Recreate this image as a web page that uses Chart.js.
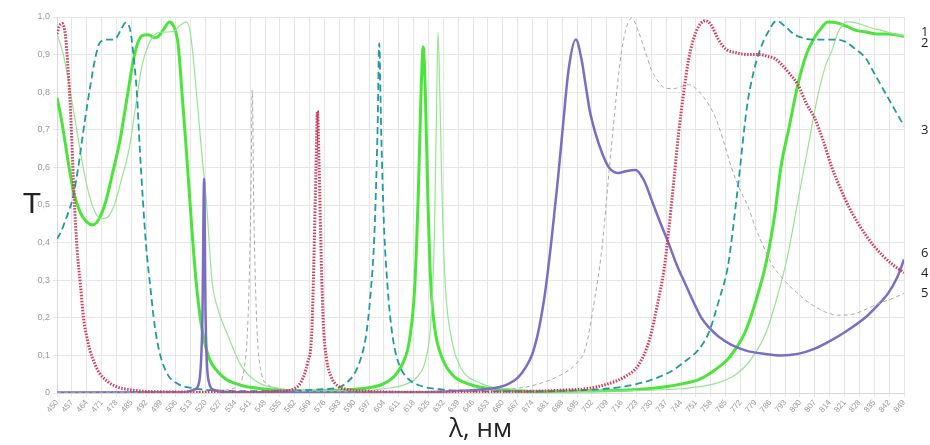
<!DOCTYPE html>
<html>
<head>
<meta charset="utf-8">
<script src="https://cdn.jsdelivr.net/npm/chart.js@4"></script>
<style>
  html, body { margin: 0; padding: 0; background: #fff; }
  #wrap { width: 930px; height: 445px; }
</style>
</head>
<body>
<div id="wrap"><canvas id="myChart" width="930" height="445"></canvas></div>
<script>
// wavelength (nm) and transmission T for each curve
var wl1 = [450,452,454,456,458,461,464,467,470,473,476,479.6,482,484,486,488,490,493,496,498,500,503,505,507,509,511,514,516,518.6,522,526,530,537,545,555,570,585,597,604,609,613,616,618.5,620.3,621.5,622.5,623.5,624.7,626,628,631,636,645,660,680,700,720,735,745,752,757,762,766,770,774,777,780,784,788,791,795,799,803,807,810,813,817,822,826,831,836,841,846,849];
var t1  = [0.785,0.73,0.66,0.59,0.53,0.48,0.455,0.447,0.465,0.51,0.58,0.67,0.75,0.82,0.886,0.93,0.95,0.953,0.945,0.95,0.965,0.987,0.975,0.93,0.79,0.64,0.40,0.27,0.16,0.088,0.055,0.035,0.02,0.012,0.007,0.005,0.008,0.014,0.025,0.045,0.08,0.14,0.28,0.55,0.8,0.92,0.8,0.52,0.3,0.17,0.1,0.05,0.022,0.008,0.004,0.005,0.008,0.015,0.025,0.035,0.05,0.07,0.09,0.12,0.16,0.205,0.26,0.345,0.47,0.6,0.71,0.82,0.9,0.947,0.97,0.987,0.985,0.975,0.965,0.96,0.955,0.955,0.952,0.948];

var wl2 = [450,453,456,459,462,465,468,471,474,477,480,484,487,490,493,497,501,505,508,511,513,516,518,520.5,523,526,530,537,545,555,570,590,605,615,620,623.5,626,627.7,628.7,629.5,630.4,631.5,633,636,640,650,665,690,720,745,760,770,777,784,789,794,799,804,808,812,815,818,822,826,830,834,838,843,849];
var t2  = [0.955,0.9,0.81,0.71,0.61,0.53,0.48,0.463,0.468,0.5,0.56,0.65,0.76,0.87,0.925,0.957,0.96,0.962,0.978,0.987,0.95,0.78,0.65,0.5,0.3,0.22,0.16,0.07,0.027,0.012,0.006,0.006,0.012,0.025,0.045,0.085,0.18,0.4,0.72,0.96,0.78,0.5,0.28,0.14,0.07,0.025,0.01,0.005,0.006,0.012,0.025,0.05,0.09,0.16,0.25,0.36,0.51,0.66,0.78,0.87,0.91,0.96,0.987,0.985,0.978,0.97,0.965,0.957,0.95];

var wl3 = [450,452,454,456,457.5,460,463,465.5,468,470,473.5,476,478,480,482.4,484.5,486,487.6,489,490.5,492,494,496,498.4,502,506,514,525,540,560,575,583,587,590,593,595.5,597.5,599.5,601,601.8,602.7,604,605.5,607,609,612,616,622,630,640,660,690,710,720,730,740,746,752,757,762,766,768.5,771,775,778,781,785,789,793,797,801,806,811,816,821,826,831,835,839,844,849];
var t3  = [0.41,0.43,0.46,0.49,0.52,0.6,0.72,0.81,0.89,0.93,0.94,0.94,0.945,0.965,0.985,0.965,0.9,0.8,0.65,0.51,0.39,0.28,0.18,0.106,0.05,0.027,0.013,0.007,0.005,0.006,0.01,0.015,0.03,0.05,0.09,0.15,0.25,0.42,0.7,0.93,0.7,0.45,0.3,0.2,0.12,0.065,0.035,0.018,0.01,0.006,0.004,0.006,0.012,0.02,0.035,0.06,0.085,0.114,0.16,0.25,0.335,0.44,0.56,0.76,0.85,0.91,0.96,0.99,0.975,0.955,0.945,0.94,0.94,0.94,0.935,0.915,0.89,0.85,0.81,0.76,0.71];

var wl4 = [450,451,452.5,454,455,456,457,458,459.5,461,462.5,464,465.5,468,470,474,478,485,500,540,555,562,565,568,570,571,572,572.7,573.5,574.5,575.5,577,579,582,587,595,620,660,690,700,710,718,724,729,733,736,738,740.5,742.8,745,747.5,751,755.5,758,761.6,765,770,775.6,781,785,788,792,795,799,803,807,811,815,819,823,827,831,835,839,844,849];
var t4  = [0.955,0.975,0.983,0.95,0.88,0.79,0.67,0.53,0.38,0.29,0.2,0.15,0.114,0.075,0.053,0.03,0.017,0.008,0.003,0.002,0.005,0.012,0.03,0.08,0.16,0.35,0.6,0.75,0.6,0.35,0.18,0.09,0.045,0.02,0.009,0.005,0.002,0.003,0.008,0.012,0.025,0.045,0.075,0.14,0.24,0.33,0.425,0.56,0.69,0.79,0.886,0.96,0.99,0.98,0.94,0.915,0.905,0.9,0.9,0.895,0.89,0.87,0.85,0.82,0.77,0.73,0.67,0.6,0.545,0.495,0.455,0.42,0.39,0.365,0.34,0.32];

var wl5 = [450,520,530,535,538,540,541.3,542,542.7,544,546,550,556,570,620,650,670,680,688,694,699,703,706.6,711,716,720.7,724,727,730,733,737,741,744,747.5,751,755.5,760,764,767.7,771,775.6,779,783.6,787,791,795,799,803,807,812,818,823,827,832,838,843,849];
var t5  = [0.002,0.003,0.008,0.02,0.06,0.2,0.5,0.806,0.5,0.2,0.06,0.02,0.008,0.004,0.003,0.006,0.015,0.03,0.05,0.075,0.12,0.24,0.38,0.646,0.91,0.997,0.96,0.91,0.86,0.83,0.81,0.81,0.815,0.82,0.81,0.78,0.735,0.67,0.6,0.55,0.495,0.44,0.38,0.34,0.31,0.285,0.265,0.245,0.23,0.215,0.207,0.208,0.213,0.225,0.24,0.25,0.265];

var wl6 = [450,510,515,517,518.5,519.3,520,521.5,524,530,620,640,655,662,667,671,674,677,680,683,686,688.5,691,694.4,697,699,701,703.7,707,710,714.6,718,722.6,725,727,730,733,738,742,746,750,753.6,757,761.6,767.7,775,783.6,791,799,807,814.7,822,830.6,836,841.5,846,849];
var t6  = [0.001,0.002,0.01,0.03,0.2,0.57,0.2,0.03,0.008,0.002,0.002,0.006,0.012,0.022,0.04,0.07,0.105,0.17,0.27,0.41,0.57,0.72,0.86,0.94,0.89,0.82,0.75,0.69,0.635,0.6,0.585,0.59,0.593,0.58,0.56,0.515,0.47,0.4,0.34,0.29,0.24,0.2,0.175,0.15,0.128,0.112,0.104,0.1,0.104,0.118,0.14,0.165,0.2,0.23,0.265,0.31,0.355];

// curve numbers written at the right edge
var curveLabels = ['1', '2', '3', '6', '4', '5'];
var curveLabelT = [0.96, 0.93, 0.70, 0.372, 0.319, 0.266];

function pts(xs, ys) {
  return xs.map(function(x, i){ return {x: x, y: ys[i]}; });
}

var sideText = {
  id: 'sideText',
  afterDraw: function(chart) {
    var ctx = chart.ctx, area = chart.chartArea, ys = chart.scales.y;
    ctx.save();
    ctx.fillStyle = '#222';
    ctx.font = '30px "Liberation Sans", Arial, sans-serif';
    ctx.textAlign = 'center';
    ctx.textBaseline = 'middle';
    ctx.fillText('T', 32, (area.top + area.bottom) / 2);
    ctx.font = '13px "Open Sans", sans-serif';
    ctx.textAlign = 'left';
    for (var i = 0; i < curveLabels.length; i++) {
      ctx.fillText(curveLabels[i], area.right + 17, ys.getPixelForValue(curveLabelT[i]));
    }
    ctx.restore();
  }
};

var ctx = document.getElementById('myChart').getContext('2d');
var chart = new Chart(ctx, {
  type: 'line',
  data: {
    datasets: [
      { data: pts(wl4, t4), borderColor: '#d33a5c', borderWidth: 3, borderDash: [1.5, 1.5] },
      { data: pts(wl5, t5), borderColor: '#a9a9a9', borderWidth: 1, borderDash: [4, 3] },
      { data: pts(wl6, t6), borderColor: '#7b6cc4', borderWidth: 2.5 },
      { data: pts(wl3, t3), borderColor: '#1f9aa0', borderWidth: 1.8, borderDash: [7, 4] },
      { data: pts(wl2, t2), borderColor: '#95e590', borderWidth: 1.2 },
      { data: pts(wl1, t1), borderColor: '#4be43a', borderWidth: 3 }
    ]
  },
  options: {
    responsive: false,
    animation: false,
    layout: { padding: { left: 0, right: 26, top: 17, bottom: 0 } },
    elements: {
      point: { radius: 0 },
      line: { cubicInterpolationMode: 'monotone', fill: false }
    },
    plugins: { legend: { display: false }, tooltip: { enabled: false } },
    scales: {
      x: {
        type: 'linear',
        min: 450, max: 849,
        afterFit: function(s){ s.height = 52; },
        grid: { color: '#e6e6e6', tickLength: 4 },
        border: { color: '#d8d8d8' },
        ticks: {
          stepSize: 7, autoSkip: false, maxRotation: 50, minRotation: 50,
          padding: 1, color: '#999', font: { size: 8 }
        },
        title: {
          display: true, text: 'λ, нм', color: '#222',
          font: { size: 26, family: '"Open Sans", sans-serif' },
          padding: { top: 0, bottom: 0 }
        }
      },
      y: {
        min: 0, max: 1,
        afterFit: function(s){ s.width = 57; },
        grid: { color: '#e6e6e6', tickLength: 4 },
        border: { color: '#d8d8d8' },
        ticks: {
          stepSize: 0.1, color: '#999', font: { size: 9 }, padding: 3,
          callback: function(v){ return v === 0 ? '0' : v.toFixed(1).replace('.', ','); }
        }
      }
    }
  },
  plugins: [sideText]
});
</script>
</body>
</html>
